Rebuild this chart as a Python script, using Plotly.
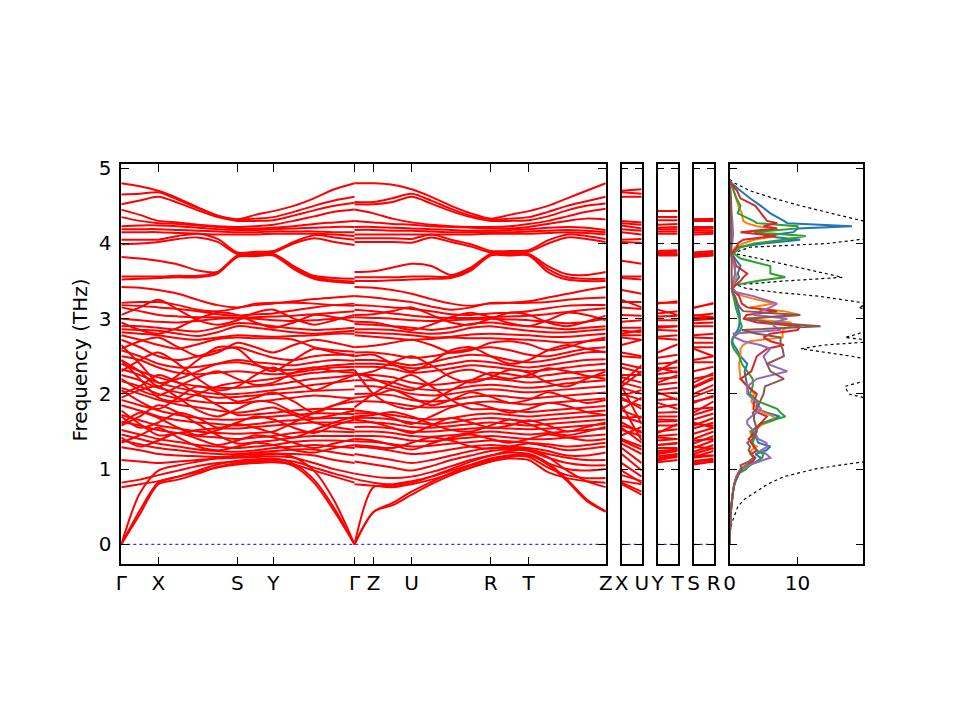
import plotly.graph_objects as go

# k-path distances of the sampled points
path1_k = [0.0, 0.185, 0.37, 0.5675, 0.765, 0.9625, 1.16, 1.34, 1.52, 1.7225, 1.925, 2.1275, 2.33]
path2_k = [2.33, 2.52, 2.71, 2.90, 3.0975, 3.295, 3.4925, 3.69, 3.88, 4.07, 4.2625, 4.455, 4.6475, 4.84]
tick_pos = [0.0, 0.37, 1.16, 1.52, 2.33, 2.52, 2.90, 3.69, 4.07, 4.84]
tick_labels = ["Γ", "X", "S", "Y", "Γ", "Z", "U", "R", "T", "Z"]

# frequencies (THz): path 1 = Γ-X-S-Y-Γ, path 2 = Γ-Z-U-R-T-Z
upper_p1 = [
    [4.80, 4.76, 4.70, 4.60, 4.48, 4.37, 4.32, 4.38, 4.43, 4.50, 4.60, 4.72, 4.80],
    [4.65, 4.66, 4.68, 4.58, 4.47, 4.37, 4.32, 4.33, 4.35, 4.42, 4.50, 4.57, 4.62],
    [4.52, 4.57, 4.62, 4.54, 4.44, 4.35, 4.30, 4.30, 4.31, 4.37, 4.44, 4.50, 4.54],
    [4.45, 4.38, 4.30, 4.28, 4.25, 4.23, 4.22, 4.23, 4.25, 4.30, 4.36, 4.42, 4.45],
    [4.35, 4.30, 4.27, 4.26, 4.24, 4.22, 4.20, 4.20, 4.21, 4.23, 4.26, 4.28, 4.30],
    [4.23, 4.24, 4.24, 4.23, 4.21, 4.19, 4.18, 4.18, 4.19, 4.20, 4.21, 4.22, 4.22],
    [4.19, 4.19, 4.19, 4.18, 4.17, 4.16, 4.15, 4.15, 4.16, 4.16, 4.16, 4.15, 4.15],
    [4.15, 4.15, 4.15, 4.14, 4.13, 4.12, 4.12, 4.12, 4.13, 4.13, 4.13, 4.12, 4.10],
    [4.05, 4.05, 4.05, 4.10, 4.13, 4.06, 3.88, 3.89, 3.90, 4.02, 4.11, 4.08, 4.05],
    [3.99, 4.00, 4.02, 4.06, 4.08, 4.02, 3.86, 3.87, 3.88, 4.00, 4.07, 4.02, 3.98],
    [3.82, 3.80, 3.77, 3.72, 3.64, 3.62, 3.84, 3.85, 3.86, 3.70, 3.57, 3.54, 3.53],
    [3.56, 3.56, 3.56, 3.57, 3.57, 3.62, 3.83, 3.84, 3.85, 3.68, 3.55, 3.51, 3.49],
    [3.52, 3.53, 3.54, 3.55, 3.55, 3.60, 3.82, 3.83, 3.84, 3.66, 3.53, 3.49, 3.47],
]
upper_p2 = [
    [4.80, 4.80, 4.78, 4.72, 4.62, 4.50, 4.40, 4.33, 4.38, 4.43, 4.50, 4.60, 4.70, 4.80],
    [4.55, 4.55, 4.60, 4.66, 4.57, 4.46, 4.37, 4.32, 4.33, 4.35, 4.42, 4.50, 4.56, 4.62],
    [4.52, 4.52, 4.55, 4.62, 4.53, 4.43, 4.35, 4.30, 4.30, 4.31, 4.36, 4.44, 4.50, 4.53],
    [4.45, 4.40, 4.33, 4.28, 4.25, 4.23, 4.22, 4.22, 4.23, 4.26, 4.30, 4.36, 4.42, 4.46],
    [4.30, 4.28, 4.26, 4.25, 4.23, 4.22, 4.21, 4.20, 4.20, 4.22, 4.26, 4.30, 4.33, 4.32],
    [4.22, 4.22, 4.21, 4.20, 4.19, 4.18, 4.17, 4.17, 4.18, 4.19, 4.21, 4.22, 4.21, 4.18],
    [4.18, 4.18, 4.17, 4.17, 4.16, 4.15, 4.15, 4.15, 4.15, 4.16, 4.17, 4.18, 4.17, 4.15],
    [4.12, 4.12, 4.12, 4.12, 4.12, 4.12, 4.12, 4.13, 4.13, 4.13, 4.14, 4.15, 4.14, 4.12],
    [4.07, 4.07, 4.07, 4.06, 4.12, 4.05, 3.99, 3.90, 3.90, 3.91, 4.04, 4.12, 4.10, 4.06],
    [4.02, 4.02, 4.02, 4.01, 4.08, 4.02, 3.96, 3.88, 3.88, 3.89, 4.00, 4.08, 4.06, 4.02],
    [3.62, 3.63, 3.68, 3.73, 3.70, 3.58, 3.68, 3.86, 3.86, 3.86, 3.70, 3.59, 3.58, 3.62],
    [3.55, 3.55, 3.55, 3.56, 3.56, 3.56, 3.66, 3.85, 3.85, 3.85, 3.66, 3.55, 3.53, 3.53],
    [3.50, 3.50, 3.51, 3.52, 3.53, 3.54, 3.64, 3.84, 3.84, 3.84, 3.62, 3.52, 3.50, 3.50],
]
middle_p1 = [
    [3.42, 3.41, 3.38, 3.33, 3.25, 3.18, 3.15, 3.18, 3.20, 3.23, 3.26, 3.28, 3.30],
    [3.21, 3.22, 3.22, 3.18, 3.12, 3.10, 3.14, 3.20, 3.21, 3.21, 3.20, 3.18, 3.17],
    [3.18, 3.17, 3.15, 3.13, 3.10, 3.06, 3.04, 3.06, 3.07, 3.11, 3.15, 3.18, 3.20],
    [3.15, 3.10, 3.05, 3.03, 3.02, 3.02, 3.01, 3.02, 3.03, 3.04, 3.06, 3.08, 3.10],
    [3.05, 3.15, 3.25, 3.12, 2.98, 2.92, 2.98, 3.08, 3.12, 3.00, 2.92, 2.98, 3.05],
    [3.00, 2.98, 2.96, 2.95, 2.97, 3.00, 3.00, 3.00, 2.98, 2.97, 2.98, 3.00, 3.02],
    [2.95, 2.85, 2.80, 2.88, 3.00, 3.08, 3.05, 2.95, 2.88, 2.95, 3.05, 3.02, 2.96],
    [2.90, 2.90, 2.88, 2.85, 2.83, 2.88, 2.94, 2.93, 2.90, 2.87, 2.85, 2.86, 2.88],
    [2.86, 2.85, 2.84, 2.80, 2.77, 2.82, 2.90, 2.88, 2.85, 2.82, 2.80, 2.82, 2.84],
    [2.82, 2.80, 2.78, 2.74, 2.72, 2.75, 2.78, 2.77, 2.76, 2.77, 2.78, 2.80, 2.80],
    [2.78, 2.72, 2.65, 2.60, 2.66, 2.73, 2.75, 2.74, 2.74, 2.72, 2.62, 2.58, 2.56],
]
middle_p2 = [
    [3.42, 3.41, 3.38, 3.33, 3.26, 3.20, 3.17, 3.20, 3.21, 3.23, 3.28, 3.33, 3.38, 3.42],
    [3.30, 3.28, 3.25, 3.22, 3.16, 3.12, 3.15, 3.21, 3.21, 3.21, 3.22, 3.25, 3.27, 3.28],
    [3.18, 3.17, 3.15, 3.13, 3.10, 3.06, 3.05, 3.07, 3.08, 3.10, 3.14, 3.17, 3.18, 3.18],
    [3.12, 3.10, 3.07, 3.04, 3.02, 3.01, 3.01, 3.02, 3.03, 3.04, 3.06, 3.09, 3.12, 3.14],
    [3.05, 3.06, 3.10, 3.15, 3.05, 2.95, 2.92, 3.00, 3.08, 3.05, 2.95, 2.90, 2.96, 3.04],
    [3.02, 3.01, 3.00, 2.98, 2.97, 2.98, 2.99, 3.00, 2.99, 2.98, 2.96, 2.94, 2.96, 3.00],
    [2.96, 2.95, 2.90, 2.85, 2.92, 3.02, 3.08, 3.02, 2.94, 2.90, 2.98, 3.08, 3.05, 2.98],
    [2.93, 2.92, 2.90, 2.88, 2.85, 2.88, 2.93, 2.95, 2.92, 2.90, 2.88, 2.86, 2.88, 2.90],
    [2.86, 2.86, 2.85, 2.82, 2.80, 2.82, 2.88, 2.90, 2.87, 2.84, 2.82, 2.82, 2.84, 2.86],
    [2.82, 2.81, 2.80, 2.78, 2.75, 2.76, 2.79, 2.80, 2.79, 2.78, 2.76, 2.76, 2.78, 2.80],
    [2.78, 2.76, 2.74, 2.72, 2.73, 2.75, 2.74, 2.74, 2.73, 2.72, 2.70, 2.68, 2.70, 2.72],
]
lower_p1 = [
    [2.72, 2.62, 2.50, 2.45, 2.50, 2.58, 2.62, 2.55, 2.48, 2.45, 2.50, 2.52, 2.52],
    [2.65, 2.40, 2.15, 2.20, 2.30, 2.40, 2.45, 2.42, 2.40, 2.38, 2.42, 2.45, 2.44],
    [2.60, 2.70, 2.75, 2.62, 2.50, 2.55, 2.68, 2.62, 2.55, 2.65, 2.72, 2.68, 2.62],
    [2.58, 2.50, 2.40, 2.35, 2.36, 2.40, 2.42, 2.38, 2.33, 2.32, 2.35, 2.38, 2.40],
    [2.50, 2.45, 2.35, 2.28, 2.26, 2.28, 2.30, 2.28, 2.26, 2.28, 2.32, 2.35, 2.36],
    [2.45, 2.30, 2.10, 2.25, 2.45, 2.62, 2.60, 2.40, 2.30, 2.45, 2.60, 2.55, 2.50],
    [2.45, 2.20, 1.95, 1.90, 2.00, 2.10, 2.15, 2.17, 2.20, 2.24, 2.28, 2.30, 2.32],
    [2.40, 2.30, 2.22, 2.15, 2.10, 2.08, 2.08, 2.10, 2.12, 2.16, 2.20, 2.22, 2.25],
    [2.33, 2.25, 2.15, 2.08, 2.03, 2.00, 2.00, 2.02, 2.05, 2.08, 2.12, 2.15, 2.18],
    [2.30, 2.45, 2.55, 2.40, 2.20, 2.05, 2.10, 2.25, 2.35, 2.20, 2.05, 2.15, 2.25],
    [2.25, 2.18, 2.08, 2.02, 1.98, 1.95, 1.96, 1.98, 2.00, 2.02, 2.04, 2.05, 2.06],
    [2.20, 2.05, 1.98, 2.10, 2.22, 2.30, 2.20, 2.12, 2.15, 2.28, 2.35, 2.30, 2.28],
    [2.17, 2.10, 2.00, 1.94, 1.90, 1.88, 1.88, 1.90, 1.92, 1.95, 1.98, 1.96, 1.94],
    [2.08, 2.00, 1.92, 1.86, 1.82, 1.78, 1.75, 1.78, 1.82, 1.72, 1.62, 1.56, 1.52],
    [2.05, 1.90, 1.80, 1.95, 2.10, 2.02, 1.90, 1.95, 2.02, 1.90, 1.75, 1.85, 1.95],
    [2.00, 2.10, 2.25, 2.15, 2.00, 1.85, 1.72, 1.73, 1.75, 1.78, 1.80, 1.80, 1.80],
    [1.95, 2.05, 2.10, 1.95, 1.78, 1.70, 1.80, 1.90, 1.88, 1.75, 1.68, 1.72, 1.78],
    [1.92, 1.85, 1.78, 1.72, 1.68, 1.66, 1.66, 1.68, 1.70, 1.72, 1.74, 1.74, 1.73],
    [1.85, 1.78, 1.70, 1.65, 1.62, 1.60, 1.58, 1.60, 1.63, 1.65, 1.67, 1.68, 1.68],
    [1.78, 1.60, 1.45, 1.48, 1.52, 1.54, 1.54, 1.56, 1.58, 1.60, 1.62, 1.62, 1.62],
    [1.72, 1.65, 1.58, 1.54, 1.50, 1.48, 1.47, 1.48, 1.50, 1.62, 1.75, 1.85, 1.90],
    [1.70, 1.55, 1.62, 1.75, 1.68, 1.55, 1.62, 1.70, 1.66, 1.55, 1.48, 1.58, 1.66],
    [1.63, 1.58, 1.52, 1.48, 1.44, 1.42, 1.40, 1.42, 1.44, 1.48, 1.50, 1.50, 1.49],
    [1.60, 1.75, 1.68, 1.55, 1.45, 1.52, 1.60, 1.55, 1.48, 1.42, 1.52, 1.62, 1.70],
    [1.58, 1.70, 1.85, 1.75, 1.60, 1.45, 1.34, 1.36, 1.38, 1.42, 1.44, 1.44, 1.44],
    [1.52, 1.46, 1.40, 1.36, 1.32, 1.30, 1.28, 1.30, 1.32, 1.36, 1.38, 1.38, 1.37],
    [1.46, 1.40, 1.34, 1.30, 1.26, 1.24, 1.23, 1.25, 1.28, 1.30, 1.32, 1.30, 1.28],
    [1.42, 1.30, 1.38, 1.48, 1.40, 1.32, 1.38, 1.45, 1.42, 1.35, 1.28, 1.34, 1.40],
    [1.38, 1.33, 1.28, 1.25, 1.22, 1.20, 1.20, 1.22, 1.24, 1.26, 1.26, 1.22, 1.18],
    [1.35, 1.45, 1.55, 1.42, 1.30, 1.25, 1.30, 1.35, 1.32, 1.25, 1.22, 1.28, 1.32],
    [1.29, 1.25, 1.20, 1.18, 1.17, 1.16, 1.16, 1.18, 1.20, 1.20, 1.18, 1.12, 1.08],
    [1.12, 1.10, 1.08, 1.10, 1.12, 1.14, 1.15, 1.16, 1.17, 1.15, 1.08, 1.00, 0.94],
    [0.82, 0.86, 0.92, 0.98, 1.04, 1.08, 1.10, 1.12, 1.13, 1.10, 1.02, 0.94, 0.87],
    [0.76, 0.80, 0.84, 0.90, 0.96, 1.02, 1.06, 1.08, 1.09, 1.06, 0.98, 0.90, 0.82],
]
lower_p2 = [
    [2.55, 2.55, 2.52, 2.48, 2.50, 2.55, 2.60, 2.62, 2.58, 2.52, 2.50, 2.55, 2.60, 2.62],
    [2.45, 2.45, 2.42, 2.38, 2.42, 2.48, 2.52, 2.50, 2.45, 2.42, 2.45, 2.50, 2.55, 2.56],
    [2.62, 2.64, 2.68, 2.72, 2.65, 2.55, 2.58, 2.68, 2.70, 2.66, 2.58, 2.62, 2.70, 2.75],
    [2.40, 2.40, 2.38, 2.34, 2.36, 2.40, 2.44, 2.42, 2.38, 2.35, 2.38, 2.42, 2.45, 2.46],
    [2.36, 2.36, 2.33, 2.28, 2.30, 2.34, 2.38, 2.36, 2.33, 2.30, 2.32, 2.35, 2.38, 2.40],
    [2.50, 2.52, 2.40, 2.30, 2.42, 2.58, 2.62, 2.50, 2.40, 2.45, 2.58, 2.65, 2.60, 2.55],
    [2.32, 2.00, 1.85, 1.80, 1.90, 2.05, 2.18, 2.28, 2.26, 2.22, 2.25, 2.28, 2.30, 2.32],
    [2.25, 2.25, 2.22, 2.15, 2.12, 2.14, 2.18, 2.20, 2.18, 2.15, 2.17, 2.20, 2.22, 2.25],
    [2.18, 2.18, 2.15, 2.08, 2.05, 2.06, 2.10, 2.12, 2.10, 2.08, 2.10, 2.14, 2.16, 2.18],
    [2.25, 2.30, 2.42, 2.50, 2.38, 2.22, 2.15, 2.22, 2.32, 2.28, 2.15, 2.10, 2.20, 2.30],
    [2.10, 2.10, 2.06, 2.00, 1.98, 2.00, 2.04, 2.06, 2.04, 2.02, 2.04, 2.06, 2.08, 2.10],
    [2.28, 2.20, 2.10, 2.05, 2.15, 2.28, 2.32, 2.25, 2.20, 2.25, 2.34, 2.30, 2.24, 2.20],
    [2.00, 2.00, 1.98, 1.92, 1.90, 1.92, 1.96, 1.98, 1.96, 1.94, 1.96, 1.98, 2.00, 2.02],
    [1.90, 1.90, 1.88, 1.84, 1.82, 1.84, 1.88, 1.90, 1.88, 1.86, 1.88, 1.90, 1.92, 1.94],
    [1.95, 1.98, 2.05, 1.95, 1.85, 1.92, 2.02, 1.96, 1.88, 1.92, 2.02, 1.95, 1.88, 1.92],
    [1.82, 2.00, 2.15, 2.25, 2.10, 1.92, 1.80, 1.80, 1.78, 1.76, 1.78, 1.80, 1.82, 1.84],
    [1.78, 1.75, 1.68, 1.60, 1.70, 1.82, 1.88, 1.82, 1.75, 1.80, 1.88, 1.84, 1.76, 1.72],
    [1.74, 1.74, 1.72, 1.68, 1.66, 1.68, 1.72, 1.74, 1.72, 1.70, 1.72, 1.74, 1.76, 1.78],
    [1.68, 1.68, 1.66, 1.62, 1.60, 1.62, 1.66, 1.68, 1.66, 1.64, 1.66, 1.68, 1.70, 1.72],
    [1.62, 1.62, 1.60, 1.56, 1.55, 1.57, 1.60, 1.62, 1.60, 1.58, 1.60, 1.62, 1.64, 1.66],
    [1.56, 1.56, 1.54, 1.50, 1.50, 1.52, 1.54, 1.55, 1.54, 1.53, 1.54, 1.56, 1.58, 1.60],
    [1.66, 1.62, 1.55, 1.48, 1.58, 1.68, 1.62, 1.55, 1.58, 1.65, 1.58, 1.50, 1.56, 1.62],
    [1.50, 1.50, 1.48, 1.44, 1.43, 1.45, 1.48, 1.50, 1.48, 1.46, 1.48, 1.50, 1.52, 1.54],
    [1.70, 1.72, 1.76, 1.70, 1.60, 1.52, 1.50, 1.58, 1.66, 1.60, 1.50, 1.45, 1.50, 1.56],
    [1.44, 1.44, 1.42, 1.38, 1.37, 1.40, 1.42, 1.44, 1.42, 1.40, 1.40, 1.42, 1.44, 1.46],
    [1.37, 1.36, 1.33, 1.30, 1.31, 1.34, 1.36, 1.38, 1.37, 1.35, 1.33, 1.30, 1.32, 1.35],
    [1.30, 1.28, 1.24, 1.20, 1.22, 1.26, 1.30, 1.32, 1.30, 1.28, 1.24, 1.18, 1.18, 1.22],
    [1.40, 1.38, 1.32, 1.26, 1.34, 1.42, 1.46, 1.40, 1.35, 1.40, 1.46, 1.42, 1.38, 1.40],
    [1.20, 1.16, 1.12, 1.08, 1.12, 1.18, 1.24, 1.28, 1.28, 1.26, 1.20, 1.15, 1.12, 1.12],
    [1.32, 1.30, 1.28, 1.35, 1.42, 1.38, 1.30, 1.27, 1.30, 1.34, 1.30, 1.25, 1.27, 1.30],
    [1.10, 1.06, 1.02, 0.98, 1.04, 1.12, 1.18, 1.24, 1.26, 1.24, 1.15, 1.08, 1.05, 1.05],
    [0.94, 0.90, 0.88, 0.90, 0.96, 1.04, 1.12, 1.18, 1.22, 1.20, 1.08, 1.00, 0.98, 1.00],
    [0.87, 0.82, 0.80, 0.84, 0.90, 0.98, 1.06, 1.14, 1.18, 1.16, 1.02, 0.92, 0.88, 0.88],
    [0.80, 0.78, 0.76, 0.80, 0.86, 0.94, 1.02, 1.10, 1.14, 1.12, 0.96, 0.88, 0.84, 0.82],
]
acoustic_p1 = [
    [0.0, 0.68, 0.98, 1.05, 1.10, 1.15, 1.18, 1.20, 1.21, 1.16, 0.98, 0.58, 0.0],
    [0.0, 0.45, 0.82, 0.90, 0.98, 1.06, 1.11, 1.13, 1.14, 1.07, 0.86, 0.48, 0.0],
    [0.0, 0.40, 0.80, 0.86, 0.94, 1.03, 1.08, 1.10, 1.11, 1.04, 0.82, 0.44, 0.0],
]
acoustic_p2 = [
    [0.0, 0.76, 0.78, 0.82, 0.90, 1.00, 1.10, 1.18, 1.24, 1.26, 1.16, 0.98, 0.84, 0.76],
    [0.0, 0.43, 0.55, 0.70, 0.83, 0.95, 1.05, 1.12, 1.18, 1.20, 1.08, 0.86, 0.60, 0.44],
    [0.0, 0.43, 0.52, 0.66, 0.80, 0.92, 1.02, 1.10, 1.16, 1.18, 1.06, 0.84, 0.58, 0.43],
]

# phonon DOS (states/THz)
dos_freq = [0.0, 0.2, 0.3, 0.4, 0.5, 0.6, 0.7, 0.8, 0.9, 0.95, 1.0, 1.05, 1.1, 1.15, 1.2, 1.25,
            1.3, 1.35, 1.4, 1.5, 1.6, 1.65, 1.7, 1.75, 1.8, 1.9, 2.0, 2.1, 2.2, 2.3, 2.4, 2.5,
            2.6, 2.65, 2.7, 2.75, 2.8, 2.85, 2.9, 2.95, 3.0, 3.05, 3.1, 3.15, 3.2, 3.3, 3.35,
            3.4, 3.45, 3.5, 3.55, 3.6, 3.7, 3.8, 3.87, 3.95, 4.0, 4.05, 4.1, 4.15, 4.2, 4.23,
            4.27, 4.3, 4.4, 4.5, 4.6, 4.7, 4.8, 4.85]
pdos_1 = [0, 0.02, 0.08, 0.15, 0.25, 0.35, 0.5, 0.7, 1.1, 1.4, 1.8, 2.6, 4.3, 4.6, 3.8, 5.4,
          6.0, 4.2, 4.0, 3.2, 4.5, 6.0, 7.4, 5.5, 4.0, 4.0, 2.8, 2.6, 2.4, 2.2, 2.6, 1.6,
          1.0, 0.6, 0.4, 0.5, 0.8, 1.2, 1.4, 1.5, 1.5, 1.5, 1.4, 1.2, 1.0, 0.6, 0.4,
          0.3, 0.5, 1.0, 1.4, 1.2, 1.6, 0.8, 0.3, 1.1, 5.0, 10.4, 5.0, 9.4, 10.0, 18.0,
          8.5, 8.0, 6.0, 4.6, 3.0, 1.6, 0.3, 0]
pdos_2 = [0, 0.02, 0.08, 0.15, 0.25, 0.35, 0.5, 0.7, 1.0, 1.3, 1.6, 2.3, 3.2, 3.6, 3.0, 3.2,
          4.0, 3.2, 3.4, 3.0, 5.0, 6.5, 6.5, 5.0, 4.0, 3.2, 3.6, 2.8, 1.6, 1.5, 1.4, 1.6,
          1.6, 2.0, 3.0, 7.8, 7.8, 7.8, 9.0, 9.0, 2.0, 10.4, 8.0, 3.0, 6.5, 2.0, 0.8,
          0.4, 0.5, 0.8, 1.0, 0.9, 0.6, 0.4, 0.2, 0.8, 2.0, 3.6, 7.0, 3.6, 7.0, 4.0,
          2.5, 2.0, 1.8, 1.3, 1.0, 0.6, 0.2, 0]
pdos_3 = [0, 0.02, 0.08, 0.15, 0.25, 0.35, 0.5, 0.7, 1.1, 1.5, 2.4, 3.0, 4.0, 4.8, 5.0, 4.0,
          3.6, 3.4, 3.6, 3.2, 4.5, 6.5, 8.2, 7.5, 7.0, 4.2, 3.0, 3.4, 3.4, 2.6, 1.8, 1.4,
          0.6, 0.4, 0.3, 0.5, 1.2, 1.6, 1.8, 1.6, 1.4, 1.2, 1.0, 0.9, 0.8, 0.5, 0.4,
          0.3, 1.0, 4.0, 8.2, 6.0, 6.0, 1.6, 0.6, 1.6, 3.6, 8.0, 11.2, 3.6, 10.0, 10.0,
          4.0, 3.5, 1.2, 1.6, 1.0, 0.6, 0.2, 0]
pdos_4 = [0, 0.02, 0.08, 0.15, 0.25, 0.35, 0.5, 0.7, 1.0, 1.3, 1.7, 2.5, 3.4, 3.8, 3.2, 4.0,
          3.5, 3.2, 2.8, 3.8, 4.5, 5.0, 5.5, 4.2, 3.5, 3.6, 4.0, 2.6, 1.6, 3.2, 3.6, 4.0,
          5.5, 8.0, 6.0, 5.0, 6.0, 10.0, 10.4, 4.0, 2.1, 2.5, 7.0, 2.6, 1.8, 1.4, 0.8,
          0.5, 0.8, 1.6, 2.0, 2.6, 1.0, 0.6, 0.3, 1.1, 1.2, 2.0, 6.8, 1.6, 7.0, 5.0,
          7.0, 5.5, 4.6, 3.8, 1.6, 1.1, 0.2, 0]
pdos_5 = [0, 0.02, 0.08, 0.15, 0.25, 0.35, 0.5, 0.7, 1.0, 1.3, 1.6, 2.6, 4.2, 6.0, 5.4, 4.6,
          5.6, 5.4, 4.2, 3.6, 2.6, 2.6, 3.2, 4.0, 4.6, 3.8, 2.6, 2.6, 4.0, 8.5, 5.5, 5.0,
          6.0, 4.5, 2.0, 0.8, 0.6, 7.5, 6.5, 6.5, 8.5, 3.6, 4.5, 6.0, 7.0, 3.5, 1.0,
          0.4, 0.4, 0.5, 0.6, 0.8, 0.8, 0.5, 0.2, 0.3, 0.4, 0.5, 0.5, 0.5, 0.5, 0.5,
          0.4, 0.4, 0.3, 0.3, 0.2, 0.1, 0.05, 0]
pdos_6 = [0, 0.02, 0.08, 0.15, 0.25, 0.35, 0.5, 0.7, 1.1, 1.4, 1.8, 1.6, 2.8, 3.5, 3.2, 2.8,
          3.0, 2.6, 3.4, 4.0, 3.8, 3.6, 3.6, 3.4, 4.0, 4.5, 5.0, 5.2, 8.0, 6.0, 5.5, 8.0,
          7.8, 7.5, 7.5, 7.5, 4.0, 1.8, 13.4, 6.0, 2.5, 10.4, 2.0, 1.5, 1.2, 0.8, 0.4,
          0.3, 0.3, 0.3, 0.3, 0.4, 0.4, 0.3, 0.2, 0.2, 0.3, 0.3, 0.3, 0.3, 0.3, 0.3,
          0.3, 0.3, 0.2, 0.2, 0.2, 0.1, 0.05, 0]
dos_total = [0, 0.1, 0.4, 0.8, 1.2, 2.2, 4.0, 5.6, 8.0, 10.5, 12.5, 16, 21, 24, 25, 26,
             26, 26, 26, 26, 26, 26, 26, 26, 26, 22, 17.5, 17, 21, 24, 24, 18,
             10.5, 14, 22, 17, 19, 20, 22, 22, 21, 20, 21, 19, 20.5, 13, 7,
             2.5, 1.0, 8, 16.6, 14, 9.2, 4.3, 0.5, 3, 14.5, 19, 24, 25, 26, 26,
             24, 19.6, 15, 10.5, 6.5, 3, 0.8, 0]
pdos_colors = ["#1f77b4", "#ff7f0e", "#2ca02c", "#d62728", "#9467bd", "#8c564b"]

W, H = 960, 720
FONT = "DejaVu Sans"
YRANGE = [-0.265, 5.053]

bands_p1 = upper_p1 + middle_p1 + lower_p1 + acoustic_p1
bands_p2 = upper_p2 + middle_p2 + lower_p2 + acoustic_p2

fig = go.Figure()

# blue zero lines
for ax, xr in [("", 4.84), ("2", 0.2), ("3", 0.2), ("4", 0.2)]:
    fig.add_trace(go.Scatter(x=[0, xr], y=[0, 0], mode="lines",
                             line=dict(color="blue", width=1, dash="dot"),
                             xaxis="x" + ax, yaxis="y" + ax, hoverinfo="skip"))

# main band structure
xs, ys = [], []
for b1, b2 in zip(bands_p1, bands_p2):
    xs += path1_k + [None] + path2_k + [None]
    ys += b1 + [None] + b2 + [None]
fig.add_trace(go.Scatter(x=xs, y=ys, mode="lines",
                         line=dict(color="#ff0000", width=2, shape="spline", smoothing=0.8),
                         xaxis="x", yaxis="y"))

# side segments X|U, Y|T, S|R
for ax, i1, i2 in [("2", 2, 3), ("3", 8, 9), ("4", 6, 7)]:
    xs, ys = [], []
    for b1, b2 in zip(bands_p1, bands_p2):
        xs += [0, 0.2, None]
        ys += [b1[i1], b2[i2], None]
    fig.add_trace(go.Scatter(x=xs, y=ys, mode="lines", line=dict(color="#ff0000", width=2),
                             xaxis="x" + ax, yaxis="y" + ax))

# DOS
fig.add_trace(go.Scatter(x=dos_total, y=dos_freq, mode="lines",
                         line=dict(color="black", width=1.2, dash="dot"),
                         xaxis="x5", yaxis="y5"))
for vals, col in zip([pdos_1, pdos_2, pdos_3, pdos_4, pdos_5, pdos_6], pdos_colors):
    fig.add_trace(go.Scatter(x=vals, y=dos_freq, mode="lines",
                             line=dict(color=col, width=2), xaxis="x5", yaxis="y5"))

# panel positions in page pixels
ydom = [1 - 562.5 / H, 1 - 158 / H]
axis_common = dict(showline=True, linecolor="black", linewidth=1.5, mirror="ticks",
                   ticks="inside", ticklen=8, tickwidth=1.2, tickcolor="black",
                   showgrid=False, zeroline=False,
                   tickfont=dict(family=FONT, size=20, color="black"))

layout = dict(
    width=W, height=H, margin=dict(l=0, r=0, t=0, b=0),
    paper_bgcolor="white", plot_bgcolor="white", showlegend=False,
    font=dict(family=FONT, size=20, color="black"),
    xaxis=dict(axis_common, domain=[116 / W, 607.6 / W], range=[0, 4.84], anchor="y",
               tickvals=tick_pos, ticktext=tick_labels),
    yaxis=dict(axis_common, domain=ydom, range=YRANGE, anchor="x",
               tickvals=[0, 1, 2, 3, 4, 5], ticklabelstandoff=4),
)
panels = {"2": (623.8, 644.1, ["X", "U"]), "3": (660.3, 680.6, ["Y", "T"]),
          "4": (696.8, 717.1, ["S", "R"])}
for ax, (x0, x1, labs) in panels.items():
    layout["xaxis" + ax] = dict(axis_common, domain=[x0 / W, x1 / W], range=[0, 0.2],
                                anchor="y" + ax, tickvals=[0, 0.2], ticktext=labs, ticklen=0)
    layout["yaxis" + ax] = dict(axis_common, domain=ydom, range=YRANGE, anchor="x" + ax,
                                tickvals=[0, 1, 2, 3, 4, 5], showticklabels=False, ticklen=7)
layout["xaxis5"] = dict(axis_common, domain=[733.3 / W, 869.1 / W], range=[0, 19.7], anchor="y5",
                        tickvals=[0, 10])
layout["yaxis5"] = dict(axis_common, domain=ydom, range=YRANGE, anchor="x5",
                        tickvals=[0, 1, 2, 3, 4, 5], showticklabels=False)

fig.update_layout(**layout)
fig.add_annotation(text="Frequency (THz)", x=74.5 / W, y=1 - 356 / H, xref="paper", yref="paper",
                   xanchor="center", yanchor="middle", showarrow=False, textangle=-90,
                   font=dict(family=FONT, size=20, color="black"))

fig.write_html("out.html", config={"displayModeBar": False},
               post_script="document.body.style.margin = '0';")
